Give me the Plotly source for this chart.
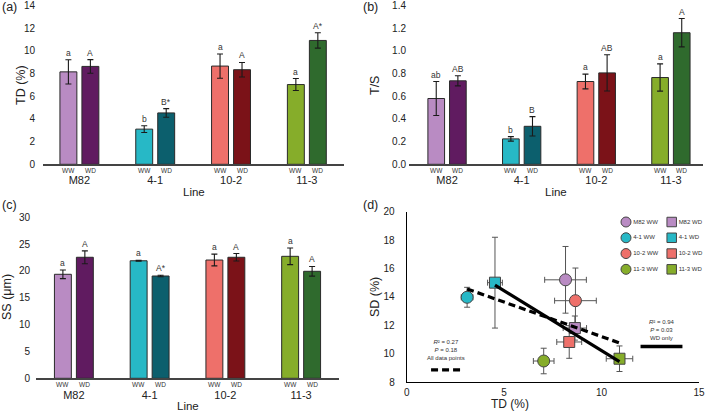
import numpy as np
import plotly.graph_objects as go

# ---------------- data ----------------
lines = ["M82", "4-1", "10-2", "11-3"]
ww_colors = ["#B98BC3", "#27B8C6", "#EE706A", "#86AD2A"]
wd_colors = ["#601B60", "#0C5F6D", "#7B1218", "#2F6A2D"]

td_ww = [8.15, 3.10, 8.66, 7.03]
td_ww_err = [1.07, 0.30, 1.07, 0.53]
td_wd = [8.63, 4.53, 8.34, 10.92]
td_wd_err = [0.60, 0.38, 0.64, 0.68]
td_ww_letters = ["a", "b", "a", "a"]
td_wd_letters = ["A", "B*", "A", "A*"]

ts_ww = [0.58, 0.224, 0.73, 0.765]
ts_ww_err = [0.15, 0.02, 0.065, 0.12]
ts_wd = [0.736, 0.335, 0.806, 1.16]
ts_wd_err = [0.045, 0.085, 0.16, 0.125]
ts_ww_letters = ["ab", "b", "a", "a"]
ts_wd_letters = ["AB", "B", "AB", "A"]

ss_ww = [19.38, 21.9, 22.04, 22.73]
ss_ww_err = [0.8, 0.1, 1.1, 1.55]
ss_wd = [22.55, 19.06, 22.55, 19.94]
ss_wd_err = [1.2, 0.15, 0.7, 0.9]
ss_ww_letters = ["a", "a", "a", "a"]
ss_wd_letters = ["A", "A*", "A", "A"]

sd_ww = [15.2, 13.97, 13.73, 9.48]
sd_ww_err = [2.35, 0.7, 2.3, 0.9]
sd_wd = [11.8, 15.0, 10.82, 9.64]
sd_wd_err = [0.85, 3.2, 1.15, 0.9]

fit_all_text = "<i>R</i>² = 0.27<br><i>P</i> = 0.18<br>All data points"
fit_wd_text = "<i>R</i>² = 0.94<br><i>P</i> = 0.03<br>WD only"

# ---------------- layout helpers ----------------
W, H = 709, 412
FONT = "Liberation Sans, Arial, sans-serif"
TXT = "#222222"


def xd(l, r):
    return [l / W, r / W]


def yd(top, bottom):
    return [1 - bottom / H, 1 - top / H]


BARGAP, GROUPGAP = 0.42, 0.23
OFF = (1 - BARGAP) / 4.0

fig = go.Figure()
annotations = []

panels = [
    ("", td_ww, td_ww_err, td_wd, td_wd_err, td_ww_letters, td_wd_letters),
    ("2", ts_ww, ts_ww_err, ts_wd, ts_wd_err, ts_ww_letters, ts_wd_letters),
    ("3", ss_ww, ss_ww_err, ss_wd, ss_wd_err, ss_ww_letters, ss_wd_letters),
]

for suf, ww, wwe, wd, wde, lww, lwd in panels:
    xa, ya = "x" + suf, "y" + suf
    for vals, errs, cols in ((ww, wwe, ww_colors), (wd, wde, wd_colors)):
        fig.add_trace(go.Bar(
            x=lines, y=vals, xaxis=xa, yaxis=ya,
            marker=dict(color=cols, line=dict(color="#2a2a2a", width=1)),
            error_y=dict(type="data", array=errs, color="#1a1a1a", thickness=1.1, width=3),
            showlegend=False, hoverinfo="skip"))
    for i in range(len(lines)):
        for sgn, v, e, lab, cond in ((-1, ww[i], wwe[i], lww[i], "WW"), (1, wd[i], wde[i], lwd[i], "WD")):
            annotations.append(dict(x=i + sgn * OFF, y=v + e, xref=xa, yref=ya, text=lab,
                                    showarrow=False, xanchor="center", yanchor="bottom", yshift=0,
                                    font=dict(size=8.5, color="#333333", family=FONT)))
            annotations.append(dict(x=i + sgn * OFF, y=0, xref=xa, yref=ya + " domain", text=cond,
                                    showarrow=False, xanchor="center", yanchor="top", yshift=-0.5,
                                    font=dict(size=6.5, color="#333333", family=FONT)))
    annotations.append(dict(x=0.5, y=0, xref=xa + " domain", yref=ya + " domain", text="Line",
                            showarrow=False, xanchor="center", yanchor="top", yshift=-20,
                            font=dict(size=11.5, color=TXT, family=FONT)))

# ---------------- panel (d) ----------------
for vals_x, ex, vals_y, ey, sym, sz in ((td_ww, td_ww_err, sd_ww, sd_ww_err, "circle", 12),
                                        (td_wd, td_wd_err, sd_wd, sd_wd_err, "square", 11)):
    fig.add_trace(go.Scatter(
        x=vals_x, y=vals_y, xaxis="x4", yaxis="y4", mode="markers",
        marker=dict(symbol=sym, size=sz, color=ww_colors, line=dict(color="#444444", width=1)),
        error_x=dict(type="data", array=ex, color="#555555", thickness=1, width=3),
        error_y=dict(type="data", array=ey, color="#555555", thickness=1, width=3),
        showlegend=False, hoverinfo="skip"))

all_x = np.array(td_ww + td_wd)
all_y = np.array(sd_ww + sd_wd)
k, b = np.polyfit(all_x, all_y, 1)
xs = np.array([all_x.min(), all_x.max()])
fig.add_trace(go.Scatter(x=xs, y=k * xs + b, xaxis="x4", yaxis="y4", mode="lines",
                         line=dict(color="black", width=3.2, dash="7px,4px"),
                         showlegend=False, hoverinfo="skip"))
wx, wy = np.array(td_wd), np.array(sd_wd)
k2, b2 = np.polyfit(wx, wy, 1)
xs2 = np.array([wx.min(), wx.max()])
fig.add_trace(go.Scatter(x=xs2, y=k2 * xs2 + b2, xaxis="x4", yaxis="y4", mode="lines",
                         line=dict(color="black", width=3.2),
                         showlegend=False, hoverinfo="skip"))

# manual 2-column legend for (d)
for col, sym, sz, suffix in ((0, "circle", 10, " WW"), (1, "square", 9.5, " WD")):
    fig.add_trace(go.Scatter(
        x=[col] * len(lines), y=list(range(len(lines))), xaxis="x5", yaxis="y5",
        mode="markers+text", text=[n + suffix for n in lines], textposition="middle right",
        textfont=dict(size=6, color="#333333", family=FONT),
        marker=dict(symbol=sym, size=sz, color=ww_colors, line=dict(color="#444444", width=1)),
        showlegend=False, hoverinfo="skip", cliponaxis=False))

# fit labels
annotations.append(dict(x=2.0, y=9.35, xref="x4", yref="y4", text=fit_all_text, showarrow=False,
                        xanchor="center", yanchor="bottom", align="center",
                        font=dict(size=6, color="#333333", family=FONT)))
annotations.append(dict(x=13.1, y=10.72, xref="x4", yref="y4", text=fit_wd_text, showarrow=False,
                        xanchor="center", yanchor="bottom", align="center",
                        font=dict(size=6, color="#333333", family=FONT)))
shapes = [
    dict(type="line", xref="x4", yref="y4", x0=1.25, x1=2.8, y0=8.85, y1=8.85,
         line=dict(color="black", width=3.2, dash="7px,4px")),
    dict(type="line", xref="x4", yref="y4", x0=12.0, x1=14.15, y0=10.5, y1=10.5,
         line=dict(color="black", width=3.5)),
]

# panel letters and axis titles
for txt, px, py in (("(a)", 9, 7), ("(b)", 370, 7), ("(c)", 9, 205), ("(d)", 370, 205)):
    annotations.append(dict(x=px / W, y=1 - py / H, xref="paper", yref="paper", text=txt,
                            xanchor="center", yanchor="middle",
                            showarrow=False, font=dict(size=12.5, color=TXT, family=FONT)))
for txt, px, py in (("TD (%)", 21, 85), ("T/S", 375, 85), ("SS (μm)", 7, 297), ("SD (%)", 375, 297)):
    annotations.append(dict(x=px / W, y=1 - py / H, xref="paper", yref="paper", text=txt,
                            xanchor="center", yanchor="middle",
                            textangle=-90, showarrow=False, font=dict(size=12.5, color=TXT, family=FONT)))
annotations.append(dict(x=510 / W, y=1 - 404 / H, xref="paper", yref="paper", text="TD (%)",
                        xanchor="center", yanchor="middle",
                        showarrow=False, font=dict(size=12, color=TXT, family=FONT)))

tickfont = dict(size=10, color=TXT, family=FONT)
catx = dict(type="category", showline=True, linecolor="#444444", linewidth=1.5, ticks="",
            showgrid=False, zeroline=False, tickfont=dict(size=11, color=TXT, family=FONT),
            ticklabelstandoff=5, automargin=False, ticklabeloverflow="allow")
valy = dict(showline=False, ticks="", showgrid=False, zeroline=False, tickfont=tickfont,
            automargin=False, ticklabeloverflow="allow")

fig.update_layout(
    width=W, height=H, margin=dict(l=0, r=0, t=0, b=0, autoexpand=False),
    paper_bgcolor="white", plot_bgcolor="white", showlegend=False,
    barmode="group", bargap=BARGAP, bargroupgap=GROUPGAP,
    font=dict(family=FONT, color=TXT),
    xaxis=dict(catx, domain=xd(43, 344), range=[-0.48, 3.49], anchor="y"),
    yaxis=dict(valy, domain=yd(5.5, 164.3), range=[0, 14], dtick=2, anchor="x", ticklabelstandoff=7),
    xaxis2=dict(catx, domain=xd(409, 703), range=[-0.51, 3.43], anchor="y2"),
    yaxis2=dict(valy, domain=yd(5.5, 164.3), range=[0, 1.4], dtick=0.2, tickformat=".1f",
                anchor="x2", ticklabelstandoff=2),
    xaxis3=dict(catx, domain=xd(36, 339), range=[-0.5, 3.5], anchor="y3", ticklabelstandoff=6),
    yaxis3=dict(valy, domain=yd(217.3, 378.3), range=[0, 30], dtick=5, anchor="x3", ticklabelstandoff=5),
    xaxis4=dict(domain=xd(406.7, 699), range=[0, 15], dtick=5, showline=True, linecolor="black",
                linewidth=1, ticks="", showgrid=False, zeroline=False, tickfont=tickfont,
                anchor="y4", ticklabelstandoff=1, automargin=False, ticklabeloverflow="allow"),
    yaxis4=dict(domain=yd(211.7, 382), range=[8, 20], dtick=2, showline=True, linecolor="black",
                linewidth=1, ticks="", showgrid=False, zeroline=False, tickfont=tickfont,
                anchor="x4", ticklabelstandoff=9, automargin=False, ticklabeloverflow="allow"),
    xaxis5=dict(domain=xd(620, 709), range=[-0.131, 1.816], visible=False, anchor="y5"),
    yaxis5=dict(domain=yd(214, 278), range=[3.55, -0.507], visible=False, anchor="x5"),
    annotations=annotations, shapes=shapes,
)

fig.write_html("out.html", config={"displayModeBar": False},
               post_script="document.body.style.margin='0px';document.body.style.overflow='hidden';")
